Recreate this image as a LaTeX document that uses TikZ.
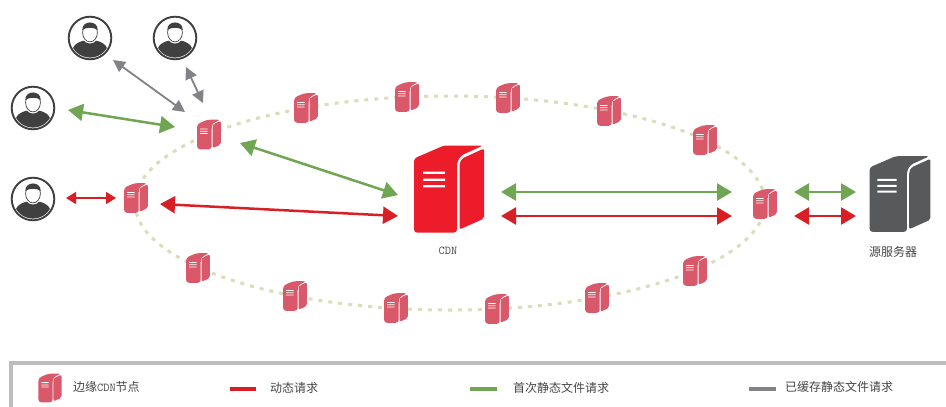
\documentclass[tikz,border=0pt]{standalone}
\usepackage{fontspec}
\usetikzlibrary{arrows.meta}
\newfontfamily\cjk{Noto Sans CJK SC}
\definecolor{cdnred}{HTML}{ED1C2B}
\definecolor{edgered}{HTML}{D9596A}
\definecolor{srvgray}{HTML}{58595B}
\definecolor{arrred}{HTML}{D91F26}
\definecolor{arrgreen}{HTML}{70A653}
\definecolor{arrgray}{HTML}{808285}
\definecolor{ring}{HTML}{D9DDB8}
\definecolor{usr}{HTML}{404040}
\definecolor{legbar}{HTML}{BDBDBD}
\definecolor{txt}{HTML}{454545}
\newcommand{\cdnfont}{\ttfamily\fontsize{12}{12}\selectfont}
\tikzset{
  x=1pt,y=-1pt,
  pics/server/.style={code={
    \begin{scope}[shift={(-35,-43.5)}]
      \fill[#1,rounded corners=3pt] (0,13) -- (30,0) -- (69,0) -- (47,10) -- (43,17) -- (43,87) -- (0,87) -- cycle;
      \fill[#1,rounded corners=2pt] (48,13) -- (70,3) -- (70,73) -- (45.5,84) -- (45.5,18) -- cycle;
      \fill[white] (9,26) rectangle (31,28.4) (9,33) rectangle (31,35.4) (9,39.5) rectangle (31,41.9);
    \end{scope}
  }},
  pics/person/.style={code={
    \draw[usr,line width=1.9pt,fill=white] (0,0) circle (21.3);
    \begin{scope}
      \clip (0,0) circle (19.6);
      \fill[usr,rounded corners=5pt] (-18,26) -- (-18,9) -- (-9,2.5) -- (9,2.5) -- (18,9) -- (18,26) -- cycle;
    \end{scope}
    \fill[white] (0,-5.5) ellipse (9 and 11);
    \draw[usr,line width=.7pt] (0,-5.5) ellipse (7.4 and 9.4);
    \fill[usr] (-7.6,-8) .. controls (-8.5,-18) and (8.5,-18) .. (7.6,-8) .. controls (4,-11) and (-4,-11) .. cycle;
  }},
  srvbox/.style={minimum width=20pt,minimum height=28pt,inner sep=0pt,fill=white},
  bigbox/.style={minimum width=70pt,minimum height=87pt,inner sep=0pt},
  userbox/.style={circle,minimum size=43pt,inner sep=0pt},
  label/.style={text=txt,font=\cjk\fontsize{12}{12}\selectfont,inner sep=0pt},
  legtext/.style={label,anchor=west},
  arrmid/.style={{Triangle[length=15pt,width=17pt]}-{Triangle[length=15pt,width=17pt]},line width=2.5pt},
  arrgr/.style={{Triangle[length=12pt,width=12pt]}-{Triangle[length=12pt,width=12pt]},line width=1.8pt},
  arrsmall/.style={{Triangle[length=10pt,width=12pt]}-{Triangle[length=10pt,width=12pt]},line width=1.6pt},
  legbarline/.style={line width=4.5pt},
}
\begin{document}
\begin{tikzpicture}
\useasboundingbox (0,0) rectangle (946,407);
\fill[white] (0,0) rectangle (946,407);
% ring
\draw[ring,line width=3pt,dash pattern=on 4pt off 6pt] (450,203) ellipse (315 and 107);
% edge nodes
\foreach \n/\x/\y in {e1/209/134.5,e2/136/198,e3/306/108,e4/407/97,e5/508/98,e6/609/111,e7/705/140,e8/765/204,e9/695/271,e10/597/298,e11/497/309,e12/396/308,e13/295/296,e14/198/268}{
  \node[srvbox] (\n) at (\x,\y) {};
  \pic[scale=.34] at (\n) {server=edgered};
}
% central
\node[bigbox] (cdn) at (449,189) {};
\pic at (cdn) {server=cdnred};
\node[label,font=\cdnfont] (cdnl) at (448,251) {CDN};
\node[bigbox,minimum width=61pt,minimum height=75pt] (src) at (900,194) {};
\pic[scale=.87] at (src) {server=srvgray};
\node[label] (srcl) at (893,252) {源服务器};
% users
\foreach \n/\x/\y in {u1/90/38,u2/175/38,u3/33/108,u4/33/199}{
  \node[userbox] (\n) at (\x,\y) {};
  \pic at (\n) {person};
}
% connectors
\draw[arrgr,arrgray] ([shift={(23,22)}]u1.center) -- ([shift={(-24,-22.5)}]e1.center);
\draw[arrgr,arrgray] ([shift={(11,29)}]u2.center) -- ([shift={(-6,-31.5)}]e1.center);
\draw[arrmid,arrgreen] ([shift={(35,2)}]u3.center) -- ([shift={(-34,-7.5)}]e1.center);
\draw[arrsmall,arrred] ([shift={(33,-1)}]u4.center) -- ([shift={(-20,0)}]e2.center);
\draw[arrmid,arrgreen] ([shift={(31,8.5)}]e1.center) -- ([shift={(-51,6)}]cdn.center);
\draw[arrmid,arrred] ([shift={(24,6)}]e2.center) -- ([shift={(-51,27)}]cdn.center);
\draw[arrmid,arrgreen] ([shift={(52,3)}]cdn.center) -- ([shift={(-33,-12)}]e8.center);
\draw[arrmid,arrred] ([shift={(52,27)}]cdn.center) -- ([shift={(-33,12)}]e8.center);
\draw[arrmid,arrgreen] ([shift={(29,-12)}]e8.center) -- ([shift={(-44,-2)}]src.center);
\draw[arrmid,arrred] ([shift={(29,12)}]e8.center) -- ([shift={(-44,22)}]src.center);
% legend
\draw[legbar,line width=4pt] (11,407) -- (11,363) -- (946,363);
\node[srvbox,fill=none,minimum height=28pt] (legs) at (50,388) {};
\pic[scale=.33] at (legs) {server=edgered};
\node[legtext] (l1) at (73,387) {边缘{\cdnfont CDN}节点};
\coordinate (b2a) at (230,389); \coordinate (b2b) at (256,389);
\draw[legbarline,arrred] (b2a) -- (b2b);
\node[legtext] (l2) at (270,388) {动态请求};
\coordinate (b3a) at (470,389); \coordinate (b3b) at (497,389);
\draw[legbarline,arrgreen] (b3a) -- (b3b);
\node[legtext] (l3) at (513,388) {首次静态文件请求};
\coordinate (b4a) at (749,389); \coordinate (b4b) at (776,389);
\draw[legbarline,arrgray] (b4a) -- (b4b);
\node[legtext] (l4) at (785,387) {已缓存静态文件请求};
\end{tikzpicture}
\end{document}
